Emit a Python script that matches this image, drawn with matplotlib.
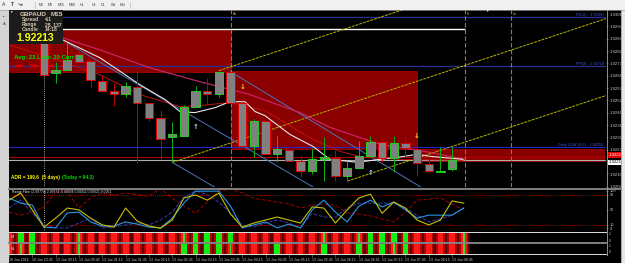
import matplotlib
matplotlib.use("Agg")
import matplotlib.pyplot as plt
from matplotlib.patches import Rectangle
from matplotlib.lines import Line2D
import matplotlib.transforms as mtransforms

plt.rcParams['font.family'] = ['Liberation Sans', 'DejaVu Sans']

# ---------------- data ----------------
symbol = "GBPAUD"
timeframe = "M15"
spread_txt = "4.1"
range_txt = "28, 137"
candle_txt = "14:18"
bid_txt = "1.92213"
ask_txt = "1.92254"
avg_txt = "Avg: 23 Last: 20 Curr: 4"
adr_txt = "ADR = 199.6  (5 days)"
today_txt = "(Today = 94.3)"
rf_header = "Range Filter (2.99774) 2.99774 -0.00004 0.00011 0.00021 0.0001"
timeframes = ["M1", "M5", "M15", "M30", "H1", "H4", "D1", "W1", "MN"]

opens = [1.92847, 1.92678, 1.92695, 1.92785, 1.92746, 1.92633, 1.92576, 1.92560, 1.92599, 1.92509,
         1.92424, 1.92311, 1.92322, 1.92486, 1.92576, 1.92560, 1.92684, 1.92509, 1.92260, 1.92407,
         1.92215, 1.92238, 1.92176, 1.92119, 1.92187, 1.92193, 1.92091, 1.92136, 1.92204, 1.92283,
         1.92193, 1.92277, 1.92243, 1.92159, 1.92114, 1.92130]
highs = [1.92847, 1.92740, 1.92847, 1.92808, 1.92746, 1.92667, 1.92622, 1.92627, 1.92689, 1.92509,
         1.92469, 1.92401, 1.92497, 1.92605, 1.92650, 1.92684, 1.92684, 1.92509, 1.92413, 1.92407,
         1.92317, 1.92238, 1.92204, 1.92249, 1.92311, 1.92238, 1.92176, 1.92289, 1.92317, 1.92300,
         1.92317, 1.92322, 1.92260, 1.92204, 1.92255, 1.92255]
lows = [1.92667, 1.92622, 1.92695, 1.92740, 1.92593, 1.92576, 1.92492, 1.92543, 1.92164, 1.92407,
        1.92187, 1.92170, 1.92322, 1.92486, 1.92503, 1.92543, 1.92509, 1.92260, 1.92198, 1.92215,
        1.92170, 1.92176, 1.92085, 1.92102, 1.92063, 1.92063, 1.92074, 1.92136, 1.92204, 1.92170,
        1.92114, 1.92198, 1.92091, 1.92119, 1.92114, 1.92119]
closes = [1.92667, 1.92695, 1.92751, 1.92740, 1.92639, 1.92576, 1.92560, 1.92605, 1.92509, 1.92424,
          1.92300, 1.92328, 1.92486, 1.92576, 1.92560, 1.92684, 1.92509, 1.92260, 1.92407, 1.92215,
          1.92243, 1.92176, 1.92119, 1.92187, 1.92198, 1.92091, 1.92136, 1.92204, 1.92283, 1.92193,
          1.92277, 1.92249, 1.92164, 1.92119, 1.92119, 1.92181]

price_ticks = [1.93011, 1.92941, 1.92871, 1.92801, 1.92731, 1.92661, 1.92591, 1.92521,
               1.92451, 1.92381, 1.92311, 1.92241, 1.92101, 1.92031]

time_idx = [-3, -1, 1, 3, 5, 7, 9, 11, 13, 15, 17, 19, 21, 23, 25, 27, 29, 31, 33, 35]
time_labels = ["10 Jun 2016", "10 Jun 23:45", "13 Jun 00:15", "13 Jun 00:45", "13 Jun 01:15",
               "13 Jun 01:45", "13 Jun 02:15", "13 Jun 02:45", "13 Jun 03:15", "13 Jun 03:45",
               "13 Jun 04:15", "13 Jun 04:45", "13 Jun 05:15", "13 Jun 05:45", "13 Jun 06:15",
               "13 Jun 06:45", "13 Jun 07:15", "13 Jun 07:45", "13 Jun 08:15", "13 Jun 08:45"]

# moving averages (candle index, price)
white_ma_idx = [-3.0, 1.63, 4.80, 8.23, 10.38, 11.66, 12.95, 14.67, 15.95, 17.24, 18.10, 18.95,
                21.10, 23.07, 24.53, 26.84, 28.82, 30.27, 31.99, 33.10, 35.93]
white_ma_px = [1.92988, 1.92864, 1.92763, 1.92610, 1.92526, 1.92458, 1.92452, 1.92480, 1.92514,
               1.92514, 1.92458, 1.92435, 1.92328, 1.92260, 1.92187, 1.92170, 1.92187, 1.92198,
               1.92215, 1.92204, 1.92187]
red_ma_idx = [-3.0, 1.63, 4.80, 8.23, 11.66, 13.38, 15.95, 18.95, 23.07, 25.39, 27.36, 30.53, 35.93]
red_ma_px = [1.92836, 1.92740, 1.92667, 1.92554, 1.92486, 1.92492, 1.92509, 1.92463, 1.92300,
             1.92232, 1.92198, 1.92187, 1.92181]
pink_ma_idx = [-3.0, 1.63, 4.80, 9.09, 13.38, 17.67, 21.96, 24.53, 28.82, 33.10, 36.11]
pink_ma_px = [1.92949, 1.92876, 1.92808, 1.92706, 1.92627, 1.92554, 1.92452, 1.92368, 1.92272,
              1.92226, 1.92187]

# trend lines: (idx0, price0, idx1, price1)
yellow_lines = [(11, 1.92170, 48.2, 1.92985), (15, 1.92690, 48.2, 1.93417), (26, 1.92063, 48.2, 1.92549)]
blue_lines = [(2, 1.92847, 24, 1.91994), (11, 1.92170, 15, 1.92015), (16, 1.92684, 33, 1.92002)]

# zones: (idx0, idx1, top, bottom)
zones = [(-3.0, 16.04, 1.92926, 1.92684), (16.04, 31.99, 1.92690, 1.92244), (32.08, 48.03, 1.92244, 1.92176)]
white_level = (1.92926, -3.0, 36.1)

r1_level = 1.92997
pp_level = 1.92718
daily_low = 1.92256
ask_line = 1.92200
bid_line = 1.92181
pp_dash = (-2.5, 2.3)

session_idx = [16.04, 36.1, 40.05]
session_names = ["As", "Fr", "Lo"]
dotted_idx = 0

down_arrows = [(17, 1.92600), (32, 1.92322)]
up_arrows = [(13, 1.92373), (28, 1.92108)]

# range filter panel (index -3..36)
rf_idx = list(range(-3, 37))
rf_yellow = [75, 94, 49, 3, 27, 54, 49, 27, 9, 3, 54, 19, 6, 0, 22, 81, 89, 75, 94, 38,
             3, 14, 22, 30, 22, 14, 57, 54, 14, 49, 81, 91, 40, 70, 54, 22, 9, 22, 73, 67]
rf_cyan = [81, 67, 62, 3, 1, 41, 43, 17, 6, 6, 17, 11, 3, 1, 27, 67, 99, 99, 99, 59,
           1, 9, 17, 1, 11, 1, 49, 75, 43, 17, 59, 75, 57, 70, 49, 27, 35, 35, 35, 54]
rf_navy = [54, 75, 40, 9, 1, 1, 14, 27, 1, 3, 9, 14, 9, 22, 43, 83, 100, 90, 70, 40,
           9, 3, 14, 22, 14, 1, 40, 30, 30, 54, 67, 67, 67, 67, 54, 35, 17, 25, 35, 54]
rf_darkred = [43, 35, 43, 57, 97, 97, 54, 81, 94, 88, 94, 90, 85, 107, 80, 60, 40, 70, 100, 104,
              95, 80, 75, 70, 65, 54, 62, 65, 61, 41, 38, 33, 25, 17, 43, 75, 78, 81, 65, 49]
rf_levels = [90, 10]
rf_ticks = [100, 90, 50, 10, 0]

# signal bars: 0 red, 1 green, 2 mixed
bar_row1 = [0, 1, 1, 0, 0, 0, 2, 0, 0, 0, 0, 0, 0, 0, 0, 2, 1, 1, 1, 1,
            0, 0, 0, 0, 0, 0, 0, 2, 0, 0, 2, 1, 1, 1, 1, 0, 0, 0, 0, 2]
bar_row2 = [2, 2, 1, 0, 0, 0, 2, 0, 0, 0, 0, 0, 0, 0, 0, 1, 1, 1, 1, 2,
            0, 0, 0, 1, 0, 0, 0, 1, 0, 0, 1, 1, 1, 2, 1, 0, 0, 0, 0, 2]

# ---------------- layout helpers ----------------
W, H = 625, 263
fig = plt.figure(figsize=(6.25, 2.63), dpi=100, facecolor='black')


def box(x0, y0, x1, y1):
    return [x0 / W, 1 - y1 / H, (x1 - x0) / W, (y1 - y0) / H]


def frect(x0, y0, x1, y1, color, z=1, **kw):
    fig.add_artist(Rectangle((x0 / W, 1 - y1 / H), (x1 - x0) / W, (y1 - y0) / H,
                             transform=fig.transFigure, facecolor=color, edgecolor='none', zorder=z, **kw))


def fline(x0, y0, x1, y1, color, lw=0.8, z=2, **kw):
    fig.add_artist(Line2D([x0 / W, x1 / W], [1 - y0 / H, 1 - y1 / H], transform=fig.transFigure,
                          color=color, lw=lw, zorder=z, **kw))


def ftext(x, y, s, **kw):
    kw.setdefault('va', 'center')
    kw.setdefault('zorder', 8)
    fig.text(x / W, 1 - y / H, s, **kw)


XL = (-3.0, 48.2)

# ---------------- window chrome ----------------
frect(0, 0, 625, 9.5, '#f0f0f0', z=1)
fline(0, 9.5, 625, 9.5, '#a0a0a0', lw=0.5)
frect(0, 9.5, 8.5, 263, '#d4d4d4', z=1)
frect(621, 9.5, 625, 263, '#e6e6e6', z=1)
fline(621, 9.5, 621, 263, '#909090', lw=0.5)
ftext(3.5, 4.7, "A", fontsize=3.5, color='#303030', ha='center')
ftext(12, 4.7, "T", fontsize=3.5, color='#303030', ha='center', fontweight='bold')
ftext(21, 4.7, "✎▾", fontsize=3.2, color='#303030', ha='center')
fline(35, 1.5, 35, 8, '#b0b0b0', lw=0.4)
tf_x = [41.5, 50.5, 61.5, 72, 82.5, 93.5, 103, 113.5, 123]
for xx, tf in zip(tf_x, timeframes):
    ftext(xx, 4.7, tf, fontsize=2.6, color='#404040', ha='center')
fline(130, 1.5, 130, 8, '#b0b0b0', lw=0.4)
ftext(4, 17, "▪", fontsize=3, color='#404040', ha='center')
ftext(4, 24, "A", fontsize=3, color='#404040', ha='center')

# ---------------- main chart ----------------
ax = fig.add_axes(box(9, 10, 606, 187))
ax.set_facecolor('black')
ax.set_xlim(*XL)
ax.set_ylim(1.92030, 1.93034)
for s in ax.spines.values():
    s.set_visible(False)
ax.set_xticks([])
ax.yaxis.tick_right()
ax.set_yticks(price_ticks)
ax.set_yticklabels([f"{p:.5f}" for p in price_ticks])
ax.tick_params(axis='y', labelsize=3.1, labelcolor='#c8c8c8', color='#a0a0a0', length=1.5, width=0.4, pad=1)

for (x0, x1, top, bot) in zones:
    ax.add_patch(Rectangle((x0, bot), x1 - x0, top - bot, facecolor='#8a0000', edgecolor='#a50000',
                           lw=0.6, zorder=1))

ax.hlines(white_level[0], white_level[1], white_level[2], color='white', lw=1.0, zorder=2)
ax.axhline(r1_level, color='#283290', lw=0.9, zorder=2)
ax.axhline(pp_level, color='#283290', lw=0.9, zorder=2)
ax.axhline(daily_low, color='#2424c8', lw=0.8, zorder=2)
ax.axhline(ask_line, color='#b00000', lw=0.8, zorder=2)
ax.axhline(bid_line, color='#b0b0b0', lw=0.8, zorder=2)
ax.hlines(pp_level, pp_dash[0], pp_dash[1], color='#e00000', lw=1.6, linestyles=(0, (3.5, 3.5)), zorder=3)

ax.text(48.0, r1_level, "R1(D) - %.5f" % r1_level, color='#3c5ad2', fontsize=2.8, ha='right', va='bottom', zorder=6)
ax.text(48.0, pp_level, "PP(D) - %.5f" % pp_level, color='#3c5ad2', fontsize=2.8, ha='right', va='bottom', zorder=6)
ax.text(48.0, daily_low, "Daily LOW (0.0) - %.5f" % daily_low, color='#3c5ad2', fontsize=2.8, ha='right',
        va='bottom', zorder=6)

for xv, nm in zip(session_idx, session_names):
    ax.axvline(xv, color='#a87818', lw=0.8, linestyle=(0, (4, 2)), zorder=2)
    ax.text(xv + 0.15, 1.93025, nm, color='#c8a040', fontsize=2.6, ha='left', va='top', zorder=6)
ax.axvline(dotted_idx, color='#d0d0d0', lw=0.6, linestyle=(0, (1, 1.5)), zorder=2)

for (a, pa, b, pb) in yellow_lines:
    ax.plot([a, b], [pa, pb], color='#b8b400', lw=0.7, linestyle=(0, (3, 1)), zorder=3)
for (a, pa, b, pb) in blue_lines:
    ax.plot([a, b], [pa, pb], color='#5073b8', lw=0.7, zorder=3)

ax.plot(pink_ma_idx, pink_ma_px, color='#d02870', lw=0.8, zorder=3)
ax.plot(red_ma_idx, red_ma_px, color='#c01010', lw=0.7, zorder=3)
ax.plot(white_ma_idx, white_ma_px, color='#e6e6e6', lw=0.8, zorder=3)

# candles
n = len(opens)
for i in range(n):
    o, h, l, c = opens[i], highs[i], lows[i], closes[i]
    bull = c >= o
    wick_col = '#10b010' if bull else '#c00000'
    edge_col = '#20d020' if bull else '#e00000'
    ax.vlines(i, l, h, color=wick_col, lw=0.7, zorder=4)
    lo_b, hi_b = min(o, c), max(o, c)
    hgt = max(hi_b - lo_b, 0.00003)
    ax.add_patch(Rectangle((i - 0.36, lo_b), 0.72, hgt, facecolor='#808080', edgecolor=edge_col,
                           lw=0.7, zorder=5))

for (xi, pr) in down_arrows:
    ax.text(xi, pr, "↓", color='#ffe000', fontsize=5, fontweight='bold', ha='center', va='center', zorder=6,
            family='DejaVu Sans')
for (xi, pr) in up_arrows:
    ax.text(xi, pr, "↑", color='#a0d8ff', fontsize=5, fontweight='bold', ha='center', va='center', zorder=6,
            family='DejaVu Sans')

# bid / ask boxes on the price scale
trans = mtransforms.blended_transform_factory(ax.transAxes, ax.transData)
ax.text(1.004, ask_line, ask_txt, transform=trans, fontsize=3.1, color='white', ha='left', va='bottom',
        bbox=dict(boxstyle='square,pad=0.15', facecolor='#e00000', edgecolor='none'), zorder=7, clip_on=False)
ax.text(1.004, bid_line, bid_txt, transform=trans, fontsize=3.1, color='black', ha='left', va='top',
        bbox=dict(boxstyle='square,pad=0.15', facecolor='white', edgecolor='none'), zorder=7, clip_on=False)

# info box
frect(9, 10, 63, 44, '#1c1c1c', z=6)
ftext(20, 14.5, symbol, fontsize=4.6, color='#d8ccb0', fontweight='bold')
ftext(51, 14.5, timeframe, fontsize=4.6, color='#d8ccb0', fontweight='bold')
ftext(22, 19.7, "Spread", fontsize=3.6, color='#d8ccb0', fontweight='bold')
ftext(45, 19.7, spread_txt, fontsize=3.6, color='#d8ccb0', fontweight='bold')
ftext(22, 24.5, "Range", fontsize=3.6, color='#d8ccb0', fontweight='bold')
ftext(45, 24.5, range_txt, fontsize=3.6, color='#d8ccb0', fontweight='bold')
ftext(22, 29.3, "Candle", fontsize=3.6, color='#d8ccb0', fontweight='bold')
ftext(45, 29.3, candle_txt, fontsize=3.6, color='#d8ccb0', fontweight='bold')
ftext(16, 38, bid_txt, fontsize=7.6, color='#ffff00', fontweight='bold')
ftext(11, 12.3, "▼", fontsize=2.5, color='white', ha='center', zorder=9)
ftext(487, 11, "▼", fontsize=2.5, color='white', ha='center')
ftext(13.5, 57, avg_txt, fontsize=4.3, color='#00e000', fontweight='bold')
ftext(11, 177.5, adr_txt, fontsize=3.4, color='#ffff00', fontweight='bold')
ftext(62, 177.5, today_txt, fontsize=3.4, color='#00e000', fontweight='bold')

# ---------------- range filter panel ----------------
ax2 = fig.add_axes(box(9, 189.5, 606, 231))
ax2.set_facecolor('black')
ax2.set_xlim(*XL)
ax2.set_ylim(-7.3, 103.5)
for s in ax2.spines.values():
    s.set_visible(False)
ax2.set_xticks([])
ax2.yaxis.tick_right()
ax2.set_yticks(rf_ticks)
ax2.set_yticklabels([str(t) for t in rf_ticks])
ax2.tick_params(axis='y', labelsize=2.8, labelcolor='#c8c8c8', color='#a0a0a0', length=1.5, width=0.4, pad=1)
for lv in rf_levels:
    ax2.axhline(lv, color='#b00000', lw=0.7, linestyle=(0, (1, 1.2)))
ax2.axvline(dotted_idx, color='#d0d0d0', lw=0.6, linestyle=(0, (1, 1.5)))
ax2.plot(rf_idx, rf_darkred, color='#a00000', lw=0.7, linestyle=(0, (4, 2)))
ax2.plot(rf_idx, rf_navy, color='#3a3aa8', lw=0.7, linestyle=(0, (4, 1.5)))
ax2.plot(rf_idx, rf_cyan, color='#2896e0', lw=0.8)
ax2.plot(rf_idx, rf_yellow, color='#c8c000', lw=0.8)
ftext(12, 192.5, rf_header, fontsize=2.4, color='#e0e0e0')

# ---------------- signal bars panel ----------------
ax3 = fig.add_axes(box(9, 232, 606, 254))
ax3.set_facecolor('black')
ax3.set_xlim(*XL)
ax3.set_ylim(0, 22)
for s in ax3.spines.values():
    s.set_visible(False)
ax3.set_yticks([])
rows = [(bar_row1, 11.5, 10.5), (bar_row2, 0.0, 10.0)]
for states, y0, hh in rows:
    for xi, st in zip(rf_idx, states):
        ax3.add_patch(Rectangle((xi - 0.5, y0), 1.0, hh, facecolor='#5a0000', edgecolor='none', zorder=1))
        ax3.add_patch(Rectangle((xi - 0.4, y0), 0.8, hh, facecolor='#b40000', edgecolor='none', zorder=2))
        if st == 1:
            ax3.add_patch(Rectangle((xi - 0.25, y0), 0.5, hh, facecolor='#10f010', edgecolor='none', zorder=3))
        else:
            ax3.add_patch(Rectangle((xi - 0.25, y0), 0.5, hh, facecolor='#ff1a1a', edgecolor='none', zorder=3))
            if st == 2:
                ax3.add_patch(Rectangle((xi - 0.08, y0), 0.16, hh, facecolor='#30e030', edgecolor='none',
                                        zorder=4))
ax3.set_xticks(time_idx)
ax3.set_xticklabels(time_labels)
ax3.tick_params(axis='x', labelsize=2.55, labelcolor='#c8c8c8', color='#909090', length=2, width=0.4, pad=0.8)
for lbl in ax3.get_xticklabels():
    lbl.set_ha('left')
ftext(11, 237, "H4", fontsize=2.4, color='#e0e0e0')
ftext(11, 249, "H1", fontsize=2.4, color='#e0e0e0')
for yy, tt in [(234, "1"), (240.5, "0"), (246, "1"), (252, "0")]:
    ftext(609, yy, tt, fontsize=2.6, color='#c8c8c8')

# separators
fline(9, 188.5, 621, 188.5, '#808080', lw=1.4, z=7)
fline(9, 231.5, 606, 231.5, '#e0e0e0', lw=0.7, z=7)
fline(9, 243, 606, 243, '#8a8a8a', lw=1.3, z=7)
fline(9, 254.3, 606, 254.3, '#e0e0e0', lw=0.7, z=7)
fline(606.5, 10, 606.5, 254.5, '#909090', lw=0.7, z=7)

fig.savefig("out.png", dpi=100, facecolor=fig.get_facecolor())
